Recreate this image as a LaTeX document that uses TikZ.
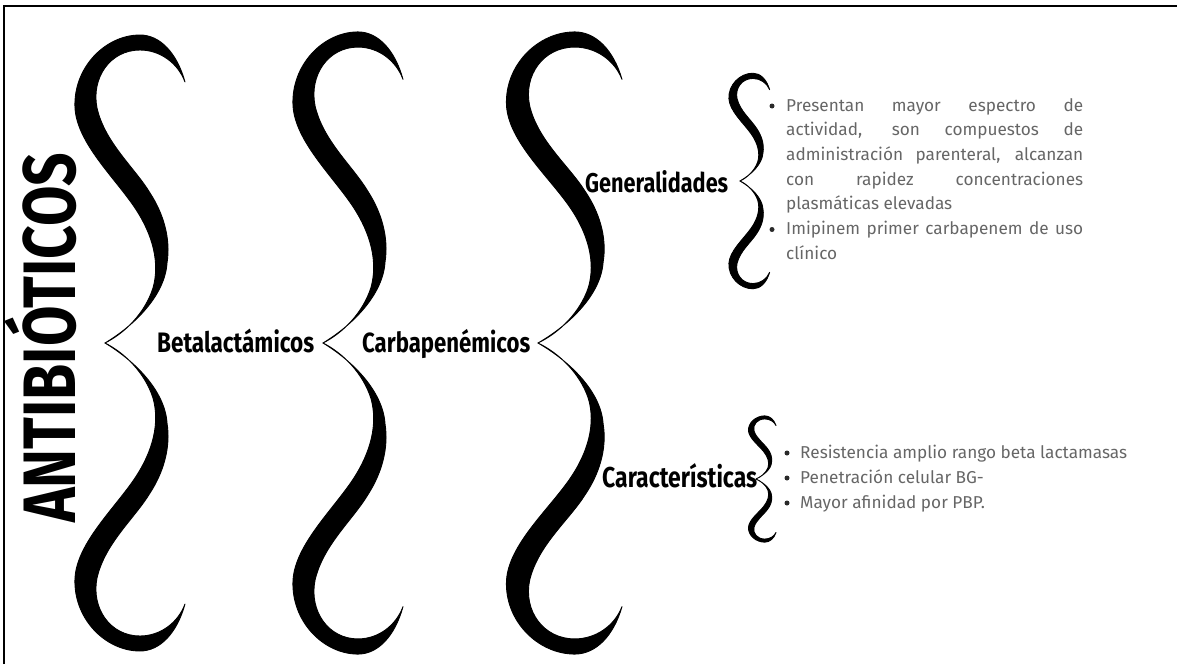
\documentclass[tikz,border=0pt]{standalone}
\usepackage{fontspec}
\setmainfont{Fira Sans}
\newfontfamily\labfont[FakeStretch=0.8]{Fira Sans}
\newfontfamily\ttlfont[FakeStretch=0.79]{Fira Sans}
\definecolor{bodygray}{HTML}{666666}
\definecolor{bulletgray}{HTML}{2A2A2A}
\tikzset{
  bracefill/.style={fill=black, draw=black, line width=0.9pt, line join=round},
  bracehalfpath/.style={insert path={
      (80,-261) .. controls (72,-290) and (55,-308) .. (35,-308)
      .. controls (0,-308) and (-32,-275) .. (-30,-235)
      .. controls (-28,-200) and (10,-165) .. (30,-135)
      .. controls (48,-108) and (55,-80) .. (48,-55)
      .. controls (40,-30) and (20,-10) .. (0,0)
      .. controls (30,-18) and (60,-48) .. (62,-80)
      .. controls (66,-105) and (58,-130) .. (45,-150)
      .. controls (30,-175) and (0,-200) .. (-8,-235)
      .. controls (-14,-265) and (5,-293) .. (35,-293)
      .. controls (55,-293) and (73,-280) .. (80,-261) -- cycle}},
  body/.style={font=\fontsize{17.2}{21}\selectfont, text=bodygray, inner sep=0pt, anchor=base west},
  lab/.style={inner sep=0pt, anchor=base west},
  bulletdot/.style={circle, fill=bulletgray, inner sep=0pt, minimum size=5pt},
}
\newcommand{\curlybrace}[3]{%
  \begin{scope}[shift={(#1)}, xscale=#2, yscale=#3]
    \path[bracefill, bracehalfpath];
    \begin{scope}[yscale=-1]
      \path[bracefill, bracehalfpath];
    \end{scope}
  \end{scope}}
\begin{document}
\begin{tikzpicture}[x=1pt,y=-1pt]
\useasboundingbox (0,0) rectangle (1177,664);
\draw[line width=2.3pt] (4.3,664) -- (4.3,5.8) -- (1177,5.8);

\node[inner sep=0pt, rotate=90, anchor=base west] (title) at (75,523)
  {\resizebox{370pt}{!}{\ttlfont\bfseries ANTIBIÓTICOS}};

\coordinate (t1) at (105,343);
\coordinate (t2) at (323,343);
\coordinate (t3) at (538,343);
\coordinate (t4) at (740,181);
\coordinate (t5) at (756,479);

\curlybrace{t1}{1}{1}
\curlybrace{t2}{1}{1.01}
\curlybrace{t3}{1.05}{1.01}
\curlybrace{t4}{0.37}{0.35}
\curlybrace{t5}{0.25}{0.205}

\node[lab] (beta) at (157,352) {\resizebox{157pt}{!}{\labfont\bfseries Betalactámicos}};
\node[lab] (carba) at (362,352) {\resizebox{168pt}{!}{\labfont\bfseries Carbapenémicos}};
\node[lab] (gen) at (585,192) {\resizebox{143pt}{!}{\labfont\bfseries Generalidades}};
\node[lab] (car) at (602,487) {\resizebox{155pt}{!}{\labfont\bfseries Características}};

\node[bulletdot] (bg1) at (772,106) {};
\node[bulletdot] (bg2) at (772,229.5) {};
\node[body] (g1) at (786,111) {\makebox[297pt][s]{Presentan mayor espectro de}};
\node[body] (g2) at (786,135.7) {\makebox[297pt][s]{actividad, son compuestos de}};
\node[body] (g3) at (786,160.4) {\makebox[297pt][s]{administración parenteral, alcanzan}};
\node[body] (g4) at (786,185.1) {\makebox[297pt][s]{con rapidez concentraciones}};
\node[body] (g5) at (786,209.8) {plasmáticas elevadas};
\node[body] (g6) at (786,234.5) {\makebox[297pt][s]{Imipinem primer carbapenem de uso}};
\node[body] (g7) at (786,259.2) {clínico};

\node[bulletdot] (bc1) at (787,453) {};
\node[bulletdot] (bc2) at (787,478) {};
\node[bulletdot] (bc3) at (787,503) {};
\node[body] (c1) at (800,458) {Resistencia amplio rango beta lactamasas};
\node[body] (c2) at (800,483) {Penetración celular BG-};
\node[body] (c3) at (800,508) {Mayor afinidad por PBP.};
\end{tikzpicture}
\end{document}
